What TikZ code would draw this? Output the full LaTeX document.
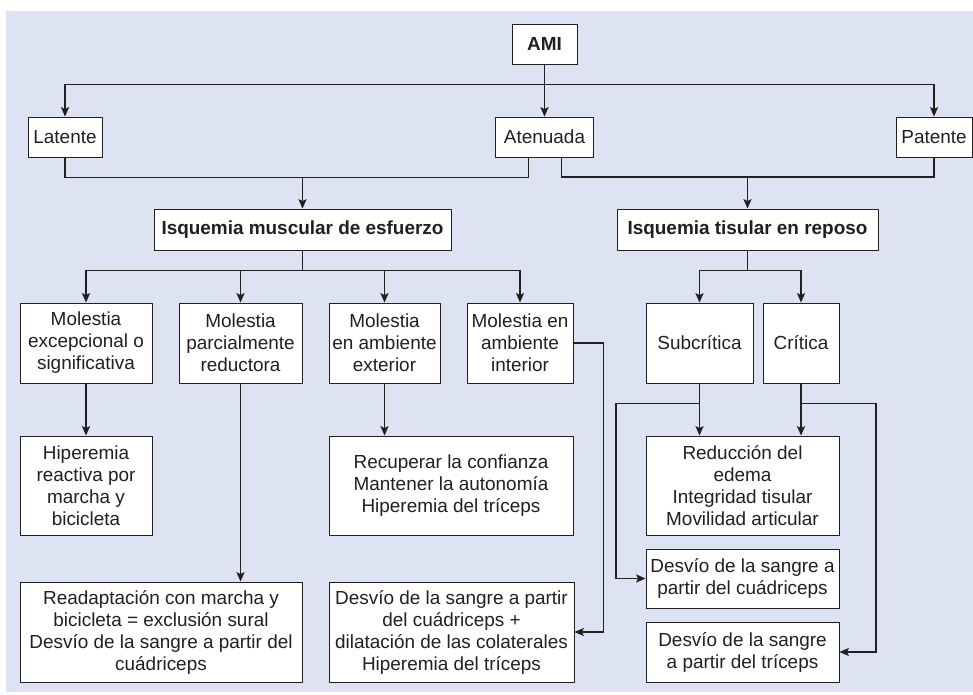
\documentclass[tikz,border=0pt]{standalone}
\usepackage{fontspec}
\setmainfont{Liberation Sans}
\usetikzlibrary{arrows.meta, calc, positioning}
\definecolor{panel}{RGB}{221,227,242}
\definecolor{ink}{RGB}{35,31,32}

\begin{document}
\begin{tikzpicture}[x=0.75pt, y=-0.75pt,
    box/.style={draw=ink, fill=white, line width=0.7pt, align=center, inner sep=1pt,
        text=ink, font=\fontsize{14.2}{16.5}\selectfont},
    conn/.style={draw=ink, line width=1.15pt},
    arr/.style={conn, -{Stealth[length=7pt, width=6pt, inset=1.4pt]}}]
    \useasboundingbox (0,0) rectangle (973,695);
    \fill[panel] (6,11) rectangle (973,692);

    \node[box, minimum width=48.75pt, minimum height=30pt] (ami) at (544.5,44) {\textbf{AMI}};
    \node[box, minimum width=55.5pt, minimum height=30pt] (latente) at (65,137) {Latente};
    \node[box, minimum width=73.5pt, minimum height=30pt] (atenuada) at (544.5,137) {Atenuada};
    \node[box, minimum width=57pt, minimum height=30pt] (patente) at (934,137) {Patente};
    \node[box, minimum width=222.75pt, minimum height=30.75pt] (muscular) at (302.5,229.5) {\textbf{Isquemia muscular de esfuerzo}};
    \node[box, minimum width=195.75pt, minimum height=30.75pt] (tisular) at (747.5,229.5) {\textbf{Isquemia tisular en reposo}};
    \node[box, minimum width=99pt, minimum height=60pt] (m1) at (86,343) {Molestia\\excepcional o\\significativa};
    \node[box, minimum width=92.25pt, minimum height=60pt] (m2) at (240.5,343) {Molestia\\parcialmente\\reductora};
    \node[box, minimum width=83.25pt, minimum height=60pt] (m3) at (384.5,343) {Molestia\\en ambiente\\exterior};
    \node[box, minimum width=79.5pt, minimum height=60pt] (m4) at (520,343) {Molestia en\\ambiente\\interior};
    \node[box, minimum width=80.25pt, minimum height=60pt] (sub) at (699.5,343) {Subcrítica};
    \node[box, minimum width=57pt, minimum height=60pt] (crit) at (801,343) {Crítica};
    \node[box, minimum width=99pt, minimum height=74.25pt] (hiper) at (86,485.5) {Hiperemia\\reactiva por\\marcha y\\bicicleta};
    \node[box, minimum width=183pt, minimum height=74.25pt] (recup) at (451,485.5) {Recuperar la confianza\\Mantener la autonomía\\Hiperemia del tríceps};
    \node[box, minimum width=144.75pt, minimum height=74.25pt] (reduc) at (742.5,485.5) {Reducción del\\edema\\Integridad tisular\\Movilidad articular};
    \node[box, minimum width=211.5pt, minimum height=75pt] (readapt) at (161,632) {Readaptación con marcha y\\bicicleta = exclusión sural\\Desvío de la sangre a partir del\\cuádriceps};
    \node[box, minimum width=183.75pt, minimum height=75pt] (desvio) at (451.5,632) {Desvío de la sangre a partir\\del cuádriceps +\\dilatación de las colaterales\\Hiperemia del tríceps};
    \node[box, minimum width=144.75pt, minimum height=44.25pt] (cuad) at (742.5,578.5) {Desvío de la sangre a\\partir del cuádriceps};
    \node[box, minimum width=144.75pt, minimum height=45pt] (triceps) at (742.5,652) {Desvío de la sangre\\a partir del tríceps};

    % AMI to the three forms
    \draw[arr] (ami) -- (atenuada);
    \draw[arr] (ami.south) -- ++(0,20) -| (latente.north);
    \draw[arr] (ami.south) -- ++(0,20) -| (patente.north);

    % forms to the two ischemias
    \coordinate (jm) at (302.5,177);
    \draw[conn] (latente.south) |- ($(atenuada.south)+(-16,20)$) -- ($(atenuada.south)+(-16,0)$);
    \draw[arr] (jm) -- (muscular);
    \draw[conn] ($(atenuada.south)+(17,0)$) |- (patente.south |- jm) -- (patente.south);
    \draw[arr] (tisular.north |- jm) -- (tisular.north);

    % muscular branch
    \draw[arr] (muscular.south) -- ++(0,20) -| (m1.north);
    \draw[arr] (muscular.south) -- ++(0,20) -| (m2.north);
    \draw[arr] (muscular.south) -- ++(0,20) -| (m3.north);
    \draw[arr] (muscular.south) -- ++(0,20) -| (m4.north);
    \draw[arr] (m1) -- (hiper);
    \draw[arr] (m2.south) -- (m2.south |- readapt.north);
    \draw[arr] (m3.south) -- (m3.south |- recup.north);
    \draw[arr] (m4.east) -- ++(30,0) |- (desvio.east);

    % tisular branch
    \draw[arr] (tisular.south) -- ++(0,20) -| (sub.north);
    \draw[arr] (tisular.south) -- ++(0,20) -| (crit.north);
    \draw[arr] (sub.south) -- (sub.south |- reduc.north);
    \draw[arr] (crit.south) -- (crit.south |- reduc.north);
    \draw[arr] (sub.south) ++(0,20) -- ++(-83.5,0) |- (cuad.west);
    \draw[arr] (crit.south) ++(0,20) -- ++(75,0) |- (triceps.east);
\end{tikzpicture}
\end{document}
